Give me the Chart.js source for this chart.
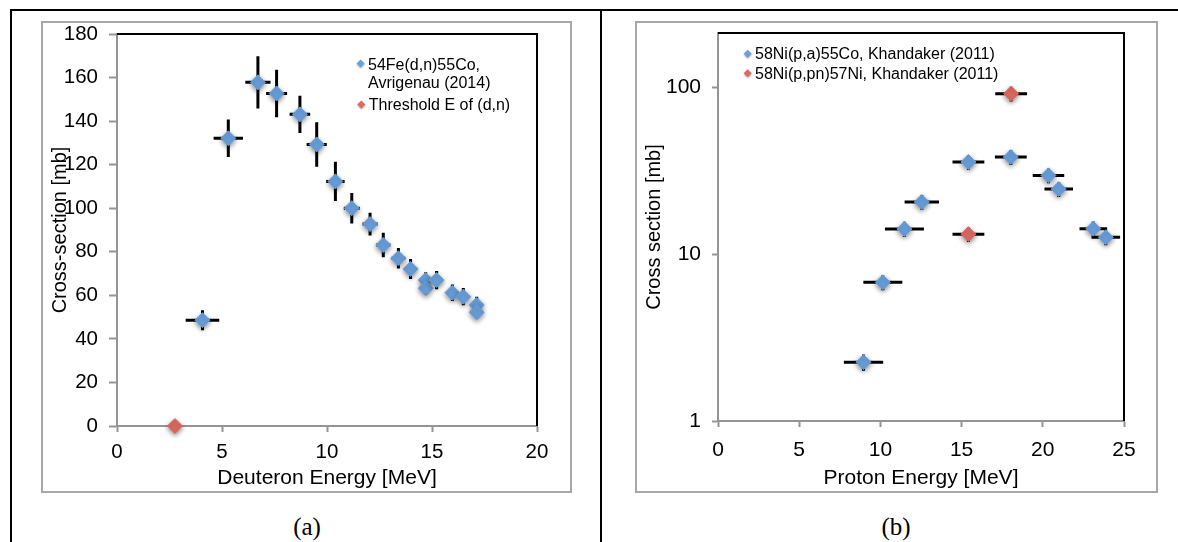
<!DOCTYPE html>
<html>
<head>
<meta charset="utf-8">
<script src="https://cdn.jsdelivr.net/npm/chart.js@4.4.1/dist/chart.umd.min.js"></script>
<style>
  html, body { margin: 0; padding: 0; background: #ffffff; }
  body { width: 1178px; height: 542px; position: relative; overflow: hidden; font-family: "Liberation Sans", Arial, sans-serif; }
  .line { position: absolute; background: #000; }
  .frame { position: absolute; border: 2px solid #a8a8a8; box-sizing: border-box; }
  .frame canvas { position: absolute; left: 0; top: 0; }
  .cap { position: absolute; font-family: "Liberation Serif", "Times New Roman", serif; font-size: 25px; text-align: center; width: 100px; line-height: 30px; color: #000; }
</style>
</head>
<body>
<div class="line" style="left:10px;top:9px;width:1168px;height:2px;"></div>
<div class="line" style="left:10px;top:9px;width:2px;height:533px;"></div>
<div class="line" style="left:600px;top:9px;width:2px;height:533px;"></div>

<div class="frame" style="left:41px;top:21px;width:531px;height:472px;"><canvas id="chartA" width="527" height="468"></canvas></div>
<div class="frame" style="left:635px;top:21px;width:523px;height:472px;"><canvas id="chartB" width="519" height="468"></canvas></div>

<div class="cap" style="left:257px;top:512px;">(a)</div>
<div class="cap" style="left:846px;top:512px;">(b)</div>

<script>
// ---------- Panel (a) data ----------
const fe54X    = [4.07, 5.30, 6.71, 7.60, 8.71, 9.51, 10.40, 11.18, 12.05, 12.68, 13.40, 13.98, 14.70, 14.70, 15.22, 15.97, 16.49, 17.13, 17.13];
const fe54Y    = [48.6, 132.1, 157.8, 152.7, 143.1, 129.3, 112.3, 100.0, 92.7, 83.1, 77.0, 72.1, 67.0, 63.2, 67.0, 61.2, 59.4, 55.6, 52.2];
const fe54ErrX = [0.80, 0.70, 0.60, 0.50, 0.49, 0.48, 0.44, 0.38, 0.36, 0.34, 0.33, 0.32, 0.30, 0.30, 0.30, 0.30, 0.30, 0.30, 0.30];
const fe54ErrY = [4.6, 8.6, 12.0, 10.9, 8.6, 10.2, 9.0, 7.0, 5.2, 5.6, 4.7, 4.6, 3.6, 3.0, 4.2, 3.8, 4.0, 3.8, 2.8];
const thresholdX = [2.76];
const thresholdY = [0];
const ticksA_Y = [0, 20, 40, 60, 80, 100, 120, 140, 160, 180];
const ticksA_X = [0, 5, 10, 15, 20];
const legendA = ["54Fe(d,n)55Co,", "Avrigenau (2014)", "Threshold E of (d,n)"];

// ---------- Panel (b) data ----------
const ni58paX    = [8.96, 10.15, 11.48, 12.55, 15.42, 18.03, 20.35, 20.98, 23.11, 23.88];
const ni58paY    = [2.25, 6.77, 14.15, 20.5, 35.6, 38.1, 29.6, 24.5, 14.2, 12.6];
const ni58paErrX = [1.21, 1.20, 1.20, 1.06, 0.98, 0.98, 0.97, 0.88, 0.85, 0.88];
const ni58paErrY = [0.25, 0.70, 1.45, 2.1, 3.6, 3.9, 3.0, 2.5, 1.45, 1.3];
const ni58ppnX    = [15.42, 18.05];
const ni58ppnY    = [13.15, 91.4];
const ni58ppnErrX = [0.98, 0.98];
const ni58ppnErrY = [1.35, 9.3];
const ticksB_Y = [1, 10, 100];
const ticksB_X = [0, 5, 10, 15, 20, 25];
const legendB = ["58Ni(p,a)55Co, Khandaker (2011)", "58Ni(p,pn)57Ni, Khandaker (2011)"];

const BLUE = '#6a9fdb';
const RED = '#dc6a63';
const AXIS = '#959595';
const FONT = '"Liberation Sans", Arial, sans-serif';

function pts(xs, ys) { return xs.map((x, i) => ({x: x, y: ys[i]})); }

const errorBars = {
  id: 'errorBars',
  beforeDatasetsDraw(chart) {
    const ctx = chart.ctx, xs = chart.scales.x, ys = chart.scales.y;
    ctx.save();
    ctx.strokeStyle = '#000';
    ctx.lineWidth = 3;
    ctx.lineCap = 'butt';
    chart.data.datasets.forEach(ds => {
      if (!ds.errX && !ds.errY) return;
      ds.data.forEach((p, i) => {
        const cx = xs.getPixelForValue(p.x), cy = ys.getPixelForValue(p.y);
        ctx.beginPath();
        if (ds.errX && ds.errX[i]) {
          ctx.moveTo(xs.getPixelForValue(p.x - ds.errX[i]), cy);
          ctx.lineTo(xs.getPixelForValue(p.x + ds.errX[i]), cy);
        }
        if (ds.errY && ds.errY[i]) {
          ctx.moveTo(cx, ys.getPixelForValue(p.y - ds.errY[i]));
          ctx.lineTo(cx, ys.getPixelForValue(p.y + ds.errY[i]));
        }
        ctx.stroke();
      });
    });
    ctx.restore();
  }
};

const shadow = {
  id: 'shadow',
  beforeDatasetDraw(chart) {
    const ctx = chart.ctx;
    ctx.save();
    ctx.shadowColor = 'rgba(0,0,0,0.45)';
    ctx.shadowBlur = 5;
    ctx.shadowOffsetX = 0;
    ctx.shadowOffsetY = 2;
  },
  afterDatasetDraw(chart) { chart.ctx.restore(); }
};

const plotBox = {
  id: 'plotBox',
  afterDraw(chart) {
    const {ctx, chartArea: a} = chart;
    ctx.save();
    ctx.strokeStyle = '#000';
    ctx.lineWidth = 2;
    ctx.beginPath();
    ctx.moveTo(a.left, a.top);
    ctx.lineTo(a.right, a.top);
    ctx.lineTo(a.right, a.bottom);
    ctx.stroke();
    ctx.restore();
  }
};

function diamond(ctx, x, y, r, color) {
  ctx.save();
  ctx.shadowColor = 'rgba(0,0,0,0.35)';
  ctx.shadowBlur = 2;
  ctx.shadowOffsetY = 1;
  ctx.fillStyle = color;
  ctx.beginPath();
  ctx.moveTo(x, y - r); ctx.lineTo(x + r, y); ctx.lineTo(x, y + r); ctx.lineTo(x - r, y);
  ctx.closePath();
  ctx.fill();
  ctx.restore();
}

function legendPlugin(items) {
  return {
    id: 'customLegend',
    afterDraw(chart) {
      const ctx = chart.ctx;
      ctx.save();
      ctx.font = '16px ' + FONT;
      ctx.fillStyle = '#000';
      ctx.textBaseline = 'middle';
      ctx.textAlign = 'left';
      items.forEach(it => {
        if (it.marker) diamond(ctx, it.mx, it.my, 4, it.marker);
        ctx.fillText(it.text, it.tx, it.ty);
      });
      ctx.restore();
    }
  };
}

function fixedTicks(values) {
  return function(scale) { scale.ticks = values.map(v => ({value: v})); };
}

function makeOptions(cfg) {
  return {
    responsive: false,
    animation: false,
    devicePixelRatio: 1,
    layout: { padding: cfg.padding },
    plugins: { legend: { display: false }, tooltip: { enabled: false } },
    scales: {
      x: {
        type: 'linear',
        min: cfg.xMin, max: cfg.xMax,
        afterBuildTicks: fixedTicks(cfg.xTicks),
        afterFit(scale) { scale.height = cfg.xHeight; scale.paddingLeft = 0; scale.paddingRight = 0; },
        grid: { drawOnChartArea: false, drawTicks: true, tickLength: 6, tickWidth: 2, tickColor: AXIS },
        border: { display: true, color: AXIS, width: 2 },
        ticks: { color: '#000', font: { family: FONT, size: cfg.tickSize }, padding: cfg.xTickPad, maxRotation: 0 },
        title: { display: true, text: cfg.xTitle, color: '#000', font: { family: FONT, size: 21 }, padding: { top: 0, bottom: cfg.xTitlePad } }
      },
      y: {
        type: cfg.yType,
        min: cfg.yMin, max: cfg.yMax,
        afterBuildTicks: fixedTicks(cfg.yTicks),
        afterFit(scale) { scale.width = cfg.yWidth; scale.paddingTop = 0; scale.paddingBottom = 0; },
        grid: { drawOnChartArea: false, drawTicks: true, tickLength: cfg.yTickLen, tickWidth: 2, tickColor: AXIS },
        border: { display: true, color: AXIS, width: 2 },
        ticks: { color: '#000', font: { family: FONT, size: cfg.tickSize }, padding: cfg.yTickPad, callback: v => String(v) },
        title: { display: true, text: cfg.yTitle, color: '#000', font: { family: FONT, size: 20 }, padding: { top: cfg.yTitlePad, bottom: 0 } }
      }
    }
  };
}

// ---------- Chart (a) ----------
new Chart(document.getElementById('chartA'), {
  type: 'scatter',
  data: {
    datasets: [
      { label: legendA[0] + ' ' + legendA[1], data: pts(fe54X, fe54Y), errX: fe54ErrX, errY: fe54ErrY,
        pointStyle: 'rectRot', pointRadius: 7.5, backgroundColor: BLUE, borderColor: BLUE, borderWidth: 1, showLine: false },
      { label: legendA[2], data: pts(thresholdX, thresholdY),
        pointStyle: 'rectRot', pointRadius: 7.5, backgroundColor: RED, borderColor: RED, borderWidth: 1, showLine: false, clip: false }
    ]
  },
  options: makeOptions({
    padding: { left: 0, top: 11, right: 33, bottom: 0 },
    xMin: 0, xMax: 20, xTicks: ticksA_X, xHeight: 65,
    yType: 'linear', yMin: 0, yMax: 180, yTicks: ticksA_Y, yWidth: 74,
    tickSize: 20.5, xTickPad: 8.5, yTickPad: 11, yTickLen: 8,
    xTitle: 'Deuteron Energy [MeV]', xTitlePad: 0,
    yTitle: 'Cross-section [mb]', yTitlePad: 5
  }),
  plugins: [errorBars, shadow, plotBox, legendPlugin([
    { marker: BLUE, mx: 317.6, my: 40.5, text: legendA[0], tx: 325, ty: 42.7 },
    { text: legendA[1], tx: 325, ty: 60.6 },
    { marker: RED, mx: 318.3, my: 81.4, text: legendA[2], tx: 325.8, ty: 82.4 }
  ])]
});

// ---------- Chart (b) ----------
new Chart(document.getElementById('chartB'), {
  type: 'scatter',
  data: {
    datasets: [
      { label: legendB[0], data: pts(ni58paX, ni58paY), errX: ni58paErrX, errY: ni58paErrY,
        pointStyle: 'rectRot', pointRadius: 7.5, backgroundColor: BLUE, borderColor: BLUE, borderWidth: 1, showLine: false },
      { label: legendB[1], data: pts(ni58ppnX, ni58ppnY), errX: ni58ppnErrX, errY: ni58ppnErrY,
        pointStyle: 'rectRot', pointRadius: 7.5, backgroundColor: RED, borderColor: RED, borderWidth: 1, showLine: false }
    ]
  },
  options: makeOptions({
    padding: { left: 0, top: 10, right: 32, bottom: 0 },
    xMin: 0, xMax: 25, xTicks: ticksB_X, xHeight: 70,
    yType: 'logarithmic', yMin: 1, yMax: 211, yTicks: ticksB_Y, yWidth: 81,
    tickSize: 21, xTickPad: 10.5, yTickPad: 11, yTickLen: 6,
    xTitle: 'Proton Energy [MeV]', xTitlePad: 0,
    yTitle: 'Cross section [mb]', yTitlePad: 5
  }),
  plugins: [errorBars, shadow, plotBox, legendPlugin([
    { marker: BLUE, mx: 110.7, my: 30.7, text: legendB[0], tx: 118, ty: 32 },
    { marker: RED, mx: 110.7, my: 50.3, text: legendB[1], tx: 118, ty: 51.3 }
  ])]
});
</script>
</body>
</html>
